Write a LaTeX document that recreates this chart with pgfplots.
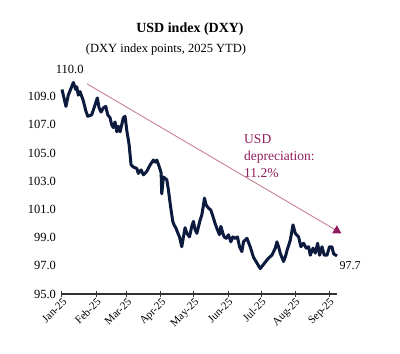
\documentclass[border=0pt]{standalone}
\usepackage{fontspec}
\setmainfont{Liberation Serif}
\usepackage{pgfplots}
\pgfplotsset{compat=1.18}
\usetikzlibrary{arrows.meta}
\definecolor{navy}{HTML}{0B1A3D}
\definecolor{arrowline}{HTML}{C77F97}
\definecolor{magentadark}{HTML}{8E1E5E}
\begin{document}
\begin{tikzpicture}
\path[use as bounding box] (0,0) rectangle (400pt,354pt);
\node[font=\fontsize{14}{15}\selectfont\bfseries] at (190pt,325pt) {USD index (DXY)};
\node[font=\fontsize{12.5}{14}\selectfont] at (166pt,305pt) {(DXY index points, 2025 YTD)};
\begin{axis}[
  at={(62pt,60pt)}, anchor=south west,
  scale only axis, width=275pt, height=218.6pt,
  xmin=0, xmax=250, ymin=95, ymax=110.5,
  axis x line*=bottom, axis y line*=left,
  y axis line style={draw=none},
  ytick={95,97,...,109},
  ytick style={draw=none},
  yticklabel style={font=\fontsize{12.5}{14}\selectfont, /pgf/number format/.cd, fixed, fixed zerofill, precision=1},
  /pgf/number format/assume math mode=true,
  xtick={0,31,59,90,120,151,181,212,243},
  xticklabels={Jan-25,Feb-25,Mar-25,Apr-25,May-25,Jun-25,Jul-25,Aug-25,Sep-25},
  xticklabel style={rotate=45, anchor=north east, font=\fontsize{11}{12}\selectfont, inner sep=0.5pt},
  x axis line style={line width=1.4pt, color=black!80},
  xtick style={line width=1pt, color=black!80},
  tick align=center, major tick length=5pt,
  clip=false,
]
\addplot[navy, line width=3pt, line join=round] coordinates {
(0,109.5)(3.6,108.3)(5.7,109.1)(8.8,109.7)(10.3,110.0)(12.5,109.5)(13.4,109.7)(14.8,109.1)(16.4,109.35)
(19.4,108.7)(21.6,108.0)(23.4,107.6)(27.0,107.7)(30.0,108.4)(32.1,108.9)(33.7,108.2)(35.5,107.9)
(37.6,108.2)(39.8,108.3)(41.6,107.7)(43.7,107.5)(45.2,107.0)(46.7,106.8)(48.2,107.2)(49.8,106.5)
(51.2,106.9)(52.8,106.5)(55.8,107.5)(57.3,107.6)(58.9,106.6)(61.0,105.6)(62.8,104.15)(64.9,104.0)
(68.0,103.9)(69.4,103.55)(71.9,103.8)(74.0,103.45)(77.1,103.7)(80.1,104.15)(83.1,104.5)(84.6,104.35)
(86.2,104.5)(88.3,104.05)(90.1,103.6)(90.7,102.1)(92.2,103.3)(95.3,103.1)(96.7,102.4)(98.7,101.2)
(100.7,100.15)(101.9,99.9)(103.7,99.65)(104.9,99.4)(106.8,99.05)(108.9,98.35)(110.4,99.05)(111.9,99.7)
(113.5,99.3)(115.9,99.05)(118.0,99.8)(119.5,100.15)(121.0,99.55)(122.6,99.3)(125.6,100.25)(127.1,100.6)
(128.6,101.3)(129.5,101.8)(131.1,101.3)(133.1,101.1)(135.3,100.95)(137.2,100.5)(139.2,100.0)(141.3,99.55)
(143.2,99.2)(144.4,99.8)(146.3,99.3)(147.4,99.05)(149.3,98.95)(151.3,99.2)(153.5,98.7)(155.3,99.05)
(157.4,98.95)(159.5,99.05)(161.4,98.35)(163.5,98.0)(165.0,98.7)(168.1,98.95)(171.1,98.35)(174.1,97.6)
(177.2,97.2)(180.2,96.8)(183.2,97.1)(187.8,97.55)(190.8,97.75)(193.9,98.25)(195.4,98.7)(196.9,98.35)
(198.4,97.9)(201.4,97.3)(203.1,97.65)(204.6,98.1)(207.5,98.8)(210.0,99.9)(212.1,99.3)(215.1,99.05)
(217.2,98.35)(219.6,98.6)(222.1,98.25)(224.2,98.35)(225.7,97.75)(228.2,98.25)(230.3,97.9)(232.4,98.6)
(234.2,97.75)(236.4,98.35)(238.4,97.75)(240.9,97.75)(243.2,98.35)(245.4,98.35)(246.9,97.85)(250.0,97.7)
};
\draw[arrowline, line width=0.9pt, -{Triangle[length=8pt, width=9pt, fill=magentadark, color=magentadark]}]
  (axis cs:22.8,109.9) -- (axis cs:254,99.3);
\node[font=\fontsize{12.5}{14}\selectfont] at (axis cs:7,110.9) {110.0};
\node[font=\fontsize{12}{14}\selectfont] at (axis cs:262,97.0) {97.7};
\node[font=\fontsize{13.5}{17}\selectfont, text=magentadark, align=left, anchor=north west, inner sep=0pt]
  at (axis cs:165.5,106.3) {USD\\depreciation:\\11.2\%};
\end{axis}
\end{tikzpicture}
\end{document}
